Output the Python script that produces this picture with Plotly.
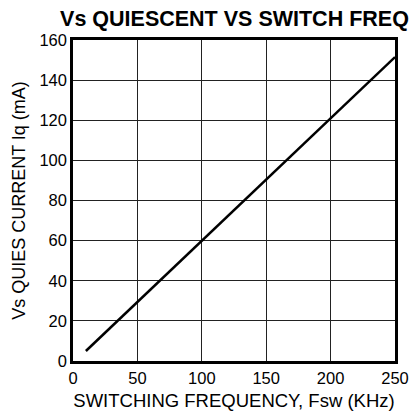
import plotly.graph_objects as go

freq_khz = [10, 250]
iq_ma = [5, 151.5]
x_ticks = [0, 50, 100, 150, 200, 250]
y_ticks = [0, 20, 40, 60, 80, 100, 120, 140, 160]

fig = go.Figure()
fig.add_trace(go.Scatter(x=freq_khz, y=iq_ma, mode="lines",
                         line=dict(color="black", width=2.5), showlegend=False))

font = "Liberation Sans, Arial, Helvetica, sans-serif"
# page body has an 8px margin, so figure is 411x403 and offsets are compensated
fig.update_layout(
    width=411, height=403,
    margin=dict(l=65, r=24, t=32, b=50),
    paper_bgcolor="white", plot_bgcolor="white",
    font=dict(family=font, color="black", size=16.5),
    title=dict(text="<b>Vs QUIESCENT VS SWITCH FREQ</b>", x=0.551, xanchor="center",
               y=0.973, yanchor="middle", font=dict(size=21.5, family=font, color="black")),
)
fig.update_xaxes(range=[0, 250], tickvals=x_ticks, showgrid=True, gridcolor="#222", gridwidth=1,
                 showline=True, linecolor="black", linewidth=2.5, mirror=True, zeroline=False,
                 ticks="", tickfont=dict(size=16.5), automargin=False,
                 title=dict(text="SWITCHING FREQUENCY, Fsw (KHz)", font=dict(size=18.5), standoff=10))
fig.update_yaxes(range=[0, 160], tickvals=y_ticks, showgrid=True, gridcolor="#222", gridwidth=1,
                 showline=True, linecolor="black", linewidth=2.5, mirror=True, zeroline=False,
                 ticks="", tickfont=dict(size=16.5), automargin=False,
                 title=dict(text="Vs QUIES CURRENT Iq (mA)", font=dict(size=18), standoff=10))
fig.write_html("out.html")
